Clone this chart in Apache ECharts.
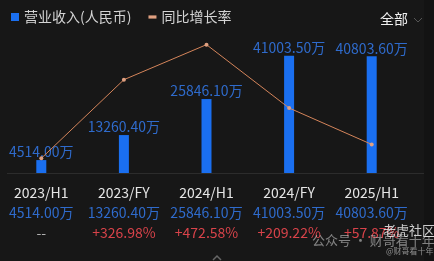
<!DOCTYPE html>
<html><head><meta charset="utf-8">
<script src="https://cdn.jsdelivr.net/npm/echarts@6/dist/echarts.min.js"></script>
<style>html,body{margin:0;padding:0;background:#171717;}#c{width:434px;height:261px;}</style>
</head><body><div id="c"></div>
<script>
const categories = ['2023/H1','2023/FY','2024/H1','2024/FY','2025/H1'];
const revenue = [4514.00, 13260.40, 25846.10, 41003.50, 40803.60];
const growth = [0, 326.98, 472.58, 209.22, 57.87];
const growthLabels = ['--','+326.98%','+472.58%','+209.22%','+57.87%'];
const seriesNames = ['营业收入(人民币)','同比增长率'];

const font = '"Noto Sans CJK SC", "Noto Sans", sans-serif';
const chart = echarts.init(document.getElementById('c'));
chart.setOption({
  backgroundColor: '#171717',
  animation: false,
  textStyle: {fontFamily: font},
  legend: {
    left: 6, top: 5, itemGap: 17, itemWidth: 8, itemHeight: 8,
    textStyle: {color: '#d4d4d4', fontSize: 14, fontFamily: font},
    data: [
      {name: seriesNames[0], icon: 'rect'},
      {name: seriesNames[1], icon: 'path://M0,0H10V4H0Z'}
    ]
  },
  grid: {left: -2, right: 21, top: 40, bottom: 88},
  xAxis: {
    type: 'category', data: categories,
    axisTick: {show: false},
    axisLine: {show: false},
    axisLabel: {
      margin: 10, interval: 0,
      formatter: function (v, i) {
        const r = revenue[i].toFixed(2) + '万';
        const g = growthLabels[i];
        return '{c|' + v + '}\n{v|' + r + '}\n' + (g === '--' ? '{n|' + g + '}' : '{g|' + g + '}');
      },
      rich: {
        c: {color: '#e6e6e6', fontSize: 14, lineHeight: 20, fontFamily: font},
        v: {color: '#2f6bcc', fontSize: 14, lineHeight: 20, fontFamily: font},
        g: {color: '#d8434a', fontSize: 14, lineHeight: 19, fontFamily: font},
        n: {color: '#b0b0b0', fontSize: 14, lineHeight: 19, fontFamily: font}
      }
    }
  },
  yAxis: [
    {type: 'value', min: 0, max: 46490, show: false, splitLine: {show: false}},
    {type: 'value', min: -61, max: 492, show: false, splitLine: {show: false}}
  ],
  graphic: [
    {type: 'rect', shape: {x: 424, y: 0, width: 10, height: 261}, style: {fill: '#131313'}, silent: true},
    {type: 'line', shape: {x1: 7, y1: 173.5, x2: 424, y2: 173.5}, style: {stroke: '#2c2c2c', lineWidth: 1}, z: -1},
    {type: 'text', left: 380, top: 12, style: {text: '全部', fill: '#f0f0f0', font: '14px ' + font}},
    {type: 'polyline', shape: {points: [[414, 18], [418, 22], [422, 18]]}, style: {stroke: '#555', lineWidth: 1, fill: null}},
    {type: 'polyline', shape: {points: [[213, 260], [217, 256], [221, 260]]}, style: {stroke: '#666', lineWidth: 1.5, fill: null}},
    {type: 'text', left: 312, top: 234, style: {text: '公众号 · 财哥看十年', fill: 'rgba(220,220,220,0.55)', font: '13px ' + font}, z: 100},
    {type: 'text', left: 383, top: 224, style: {text: '老虎社区', fill: 'rgba(235,235,235,0.85)', font: '13px ' + font}, z: 100},
    {type: 'text', left: 386, top: 247, style: {text: '@财哥看十年', fill: 'rgba(220,220,220,0.6)', font: '8px ' + font}, z: 100}
  ],
  series: [
    {
      name: seriesNames[0], type: 'bar', data: revenue, barWidth: 10,
      itemStyle: {color: '#1a6ff0'},
      label: {
        show: true, position: 'top', distance: 1,
        color: '#2f6bcc', fontSize: 14, fontFamily: font,
        formatter: p => p.value.toFixed(2) + '万'
      }
    },
    {
      name: seriesNames[1], type: 'line', yAxisIndex: 1, data: growth,
      symbol: 'circle', symbolSize: 4,
      lineStyle: {color: '#d4845a', width: 1},
      itemStyle: {color: '#e0a080'}
    }
  ]
});
</script></body></html>
